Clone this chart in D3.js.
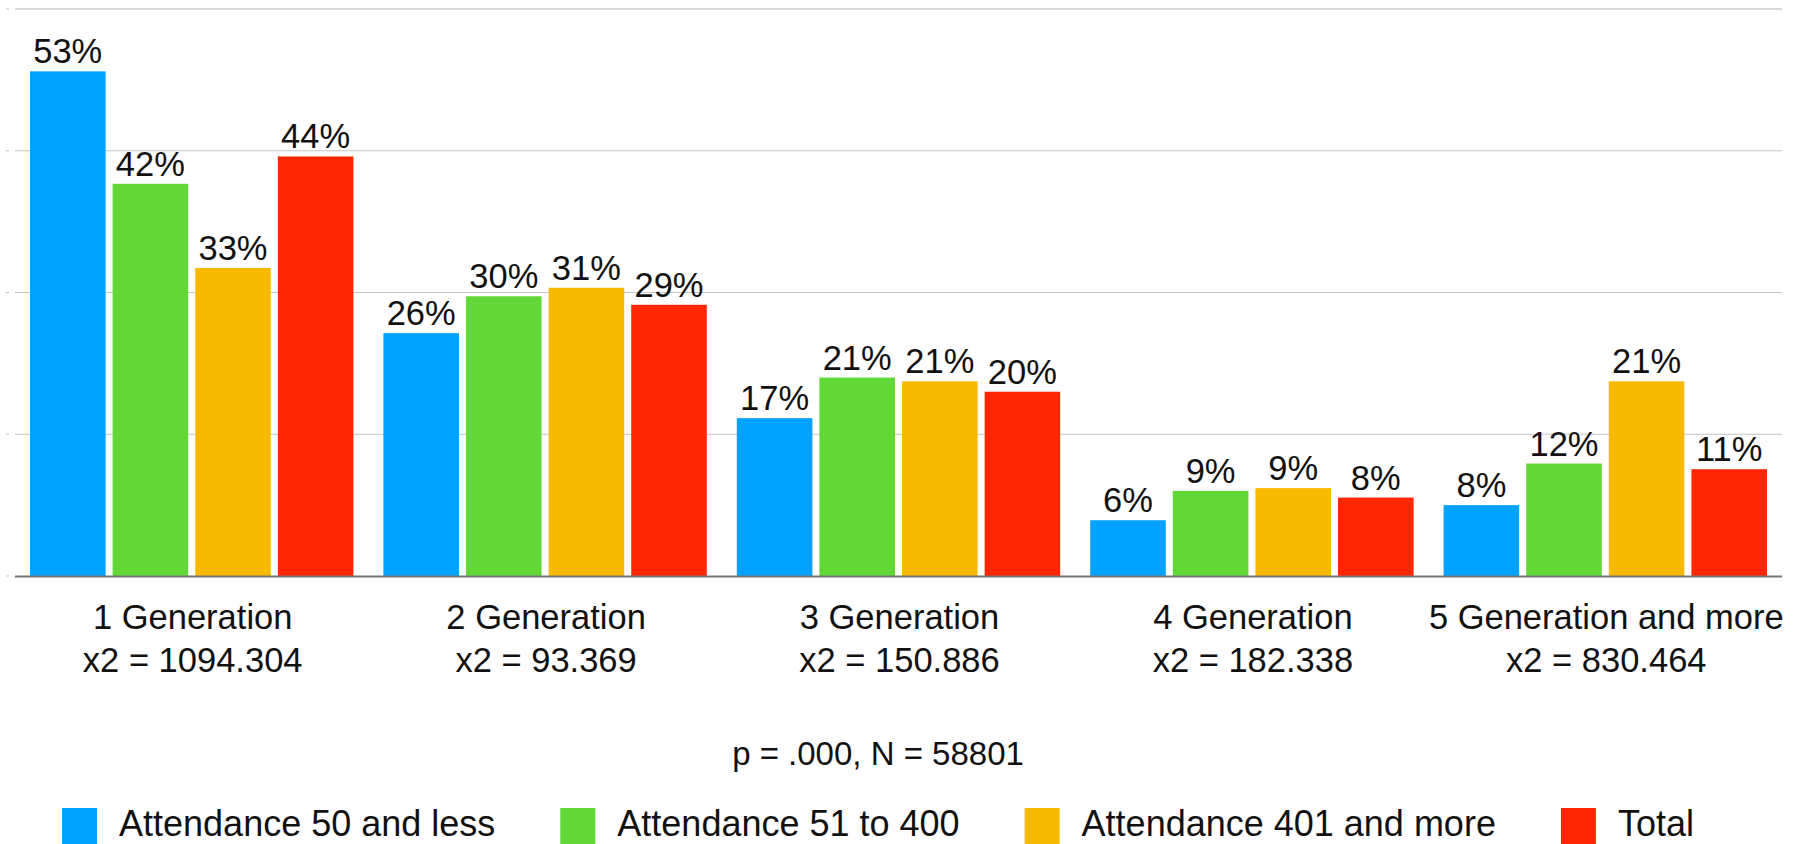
<!DOCTYPE html>
<html>
<head>
<meta charset="utf-8">
<script src="https://cdn.jsdelivr.net/npm/d3@7"></script>
<style>
  html, body { margin: 0; padding: 0; background: #fff; overflow: hidden; }
  text { font-family: "Liberation Sans", Arial, Helvetica, sans-serif; fill: #111; }
</style>
</head>
<body>
<svg id="chart" width="1806" height="844"></svg>
<script>
const categories = ["1 Generation", "2 Generation", "3 Generation", "4 Generation", "5 Generation and more"];
const chiSquare = ["x2 = 1094.304", "x2 = 93.369", "x2 = 150.886", "x2 = 182.338", "x2 = 830.464"];
const seriesNames = ["Attendance 50 and less", "Attendance 51 to 400", "Attendance 401 and more", "Total"];
const attendance50 = [53.4, 25.7, 16.7, 5.9, 7.5];
const attendance51to400 = [41.5, 29.6, 21.0, 9.0, 11.9];
const attendance401 = [32.6, 30.5, 20.6, 9.3, 20.6];
const total = [44.4, 28.7, 19.5, 8.3, 11.3];
const labels50 = ["53%", "26%", "17%", "6%", "8%"];
const labels51to400 = ["42%", "30%", "21%", "9%", "12%"];
const labels401 = ["33%", "31%", "21%", "9%", "21%"];
const labelsTotal = ["44%", "29%", "20%", "8%", "11%"];
const yTicks = [0, 15, 30, 45, 60];
const footnote = "p = .000, N = 58801";

const colors = ["#00a2ff", "#61d836", "#f8ba00", "#ff2600"];
const seriesValues = [attendance50, attendance51to400, attendance401, total];
const seriesLabels = [labels50, labels51to400, labels401, labelsTotal];

const svg = d3.select("#chart");
const plotLeft = 15, plotRight = 1782, plotTop = 9, plotBottom = 576;

const x0 = d3.scaleBand().domain(categories).range([plotLeft, plotRight]).padding(0);
const x1 = d3.scaleBand().domain(d3.range(seriesNames.length))
  .range([15, x0.bandwidth() - 15]).paddingInner(0.085).paddingOuter(0);
const y = d3.scaleLinear().domain([0, 60]).range([plotBottom, plotTop]);

// gridlines
const grid = svg.append("g");
yTicks.filter(t => t > 0).forEach(t => {
  grid.append("line")
    .attr("x1", plotLeft).attr("x2", plotRight)
    .attr("y1", y(t)).attr("y2", y(t))
    .attr("stroke", t === 60 ? "#d8d8d8" : "#c4c4c4")
    .attr("stroke-width", t === 60 ? 2 : 1.2);
});
// tiny left tick marks
yTicks.forEach(t => {
  grid.append("line")
    .attr("x1", 6).attr("x2", 9)
    .attr("y1", y(t)).attr("y2", y(t))
    .attr("stroke", "#c0c0c0").attr("stroke-width", 1);
});

// bars
const groups = svg.append("g").selectAll("g")
  .data(categories).join("g")
  .attr("transform", d => `translate(${x0(d)},0)`);

groups.each(function(cat, ci) {
  const g = d3.select(this);
  seriesValues.forEach((vals, si) => {
    g.append("rect")
      .attr("x", x1(si)).attr("width", x1.bandwidth())
      .attr("y", y(vals[ci])).attr("height", y(0) - y(vals[ci]))
      .attr("fill", colors[si]);
    g.append("text")
      .attr("x", x1(si) + x1.bandwidth() / 2)
      .attr("y", y(vals[ci]) - 8)
      .attr("text-anchor", "middle")
      .attr("font-size", 34.5)
      .text(seriesLabels[si][ci]);
  });
  g.append("text")
    .attr("x", x0.bandwidth() / 2 + 1).attr("y", 629)
    .attr("text-anchor", "middle").attr("font-size", 34.5)
    .text(cat);
  g.append("text")
    .attr("x", x0.bandwidth() / 2 + 1).attr("y", 672)
    .attr("text-anchor", "middle").attr("font-size", 34.5)
    .text(chiSquare[ci]);
});

// baseline
svg.append("line")
  .attr("x1", plotLeft).attr("x2", plotRight)
  .attr("y1", y(0) + 0.5).attr("y2", y(0) + 0.5)
  .attr("stroke", "#777").attr("stroke-width", 2.2);

// footnote
const centerX = 878;
svg.append("text")
  .attr("x", centerX).attr("y", 765)
  .attr("text-anchor", "middle").attr("font-size", 33)
  .text(footnote);

// legend
const legend = svg.append("g");
const items = [];
seriesNames.forEach((name, i) => {
  const item = legend.append("g");
  item.append("rect").attr("x", 0).attr("y", 808).attr("width", 35).attr("height", 36).attr("fill", colors[i]);
  const t = item.append("text").attr("x", 57).attr("y", 836).attr("font-size", 36).text(name);
  items.push({ item, w: 57 + t.node().getComputedTextLength() });
});
const gap = 65;
const totalW = d3.sum(items, d => d.w) + gap * (items.length - 1);
let cx = centerX - totalW / 2;
items.forEach(d => { d.item.attr("transform", `translate(${cx},0)`); cx += d.w + gap; });
</script>
</body>
</html>
